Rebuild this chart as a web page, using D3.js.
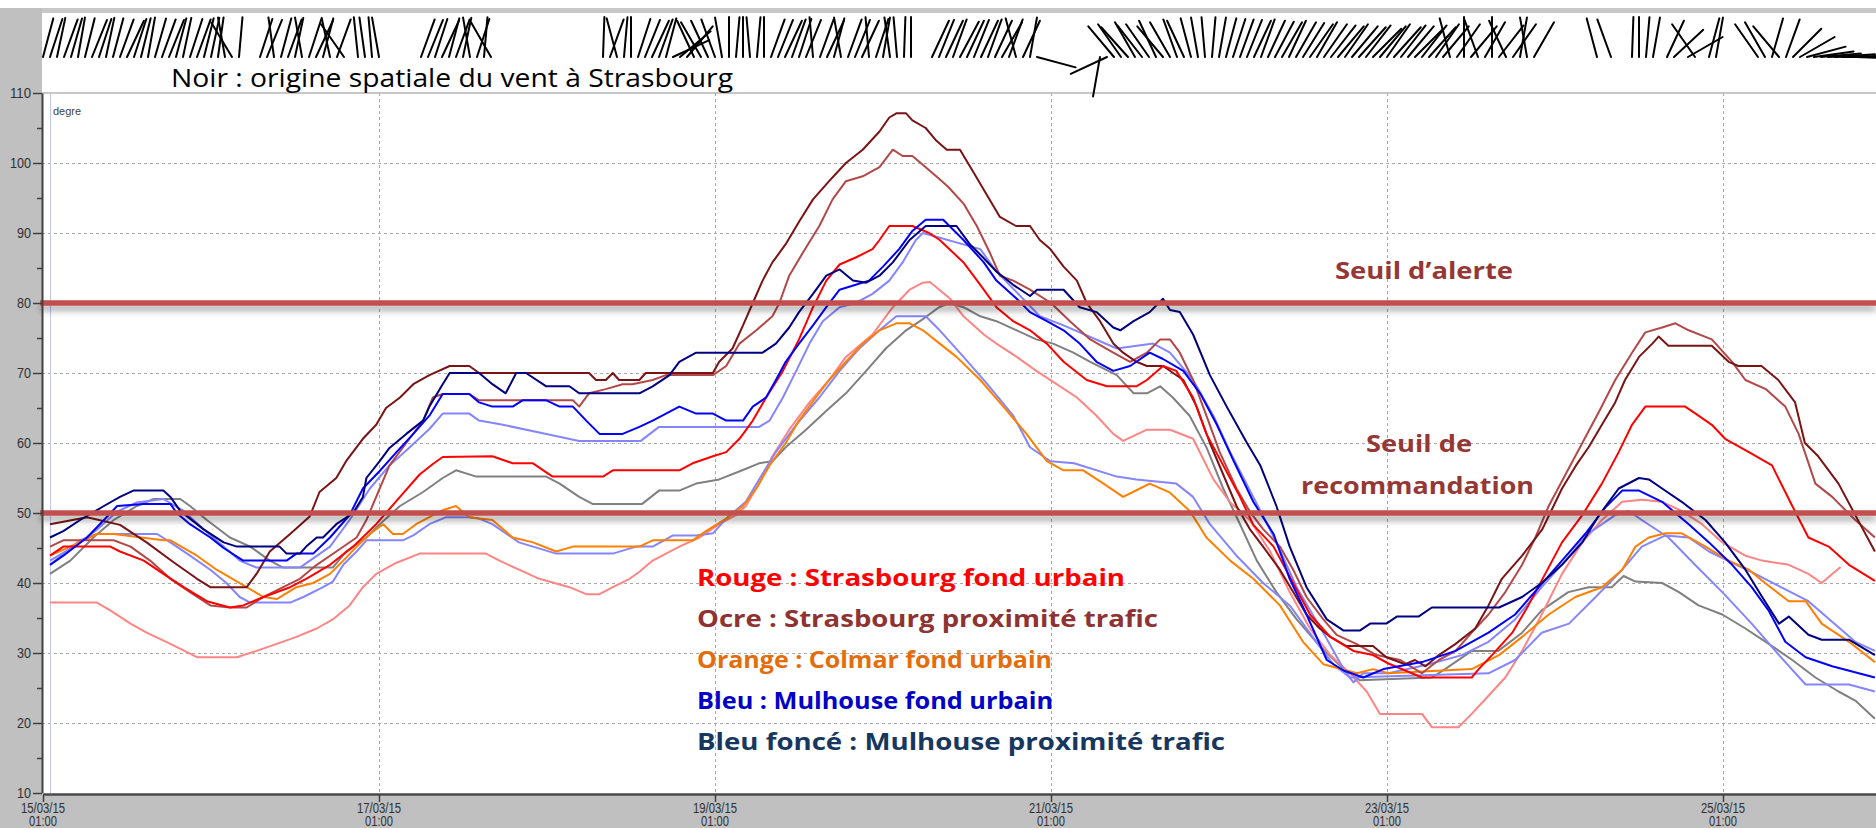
<!DOCTYPE html>
<html>
<head>
<meta charset="utf-8">
<script src="https://cdn.jsdelivr.net/npm/d3@7"></script>
<style>
  html, body { margin: 0; padding: 0; background: #fff; }
  svg { display: block; }
</style>
</head>
<body>
<svg id="chart" width="1876" height="828"></svg>
<script>
// Hourly series: [hours since 15/03/15 01:00, degre]
const darkRed = [[1,48.4],[6.3,49.4],[11,48.3],[14.8,45.8],[18.6,43],[22,40.6],[23.9,39.4],[29.1,39.4],[30.5,41.3],[32.4,44.5],[35.3,47],[38.1,49.5],[39.5,53],[41.9,55],[43.3,57.4],[45.7,60.6],[47.6,62.6],[49,65],[51,66.5],[52.9,68.4],[55.2,69.7],[58.1,71],[60.9,71],[62.3,70],[78,70],[79,69],[80.4,69],[81.4,70],[82.3,69],[85.2,69],[86.1,70],[95.7,70],[96.6,71.6],[98.5,73.5],[100,76.8],[101.4,80],[102.8,83.2],[104.2,85.8],[106.1,88.4],[108,91.6],[110,94.8],[112.3,97.4],[114.7,100],[117.1,101.9],[119.5,104.5],[120.9,106.5],[121.9,107.1],[123.3,107.1],[124.2,106.1],[126.1,105],[127.6,103.2],[129.1,101.9],[131,101.9],[132.9,98.7],[134.8,95.5],[136.7,92.3],[139,91],[141,91],[142.4,89],[143.9,87.7],[145.8,85.2],[147.7,83.2],[149.1,80],[151,77.4],[152.9,74.2],[154.3,72.9],[156.2,71.6],[157.7,71],[160,71],[162.9,69],[164.8,65.2],[166.7,60],[168.6,55.5],[170.5,51],[172.4,47.7],[174.3,45.2],[176.7,41.9],[178.6,38.7],[180.5,35.5],[182.4,33.5],[183.9,32.3],[186.2,31],[190,31],[191.9,29.4],[194.6,28.4],[196,29],[197.5,28.1],[199.4,29.7],[201.8,31.3],[204.6,33.5],[206.5,36.8],[208.4,40.6],[211.3,43.9],[214.2,47.7],[217,53.5],[219,56.8],[220.8,59.4],[222.7,62.6],[224.6,65.8],[226,69],[228,72.3],[229.9,74.2],[230.8,75.2],[232.2,73.9],[238.4,73.9],[240.8,71.6],[242.2,71],[245.5,71],[247.9,69],[250.3,65.8],[251.7,60],[253.6,58.1],[256.5,54.2],[258.9,49.7],[261.7,44.5]];

const brickRed = [[1,45.2],[2.9,46.1],[10.1,46.1],[12.5,45.2],[15.3,43.2],[18.2,40.6],[21,38.7],[23.9,36.8],[26.7,36.5],[29.1,36.5],[31.5,38],[34.3,39.4],[36.7,40.6],[39.1,42.6],[41.9,44.5],[44.8,46.5],[46.2,49],[49.5,56.8],[51.9,60],[54.3,63.2],[55.7,66.5],[57.1,67],[60.9,67],[62.3,66.1],[75.7,66.1],[76.6,65.2],[78,67.1],[80.4,67.7],[82.8,68.4],[84.2,68.4],[87.1,69],[89,69.7],[95.7,69.7],[97.6,71],[99.5,74.2],[101.9,76.1],[104.2,78.1],[105.2,80],[106.6,83.9],[108.5,87.1],[110.9,91],[112.8,94.8],[114.7,97.4],[117.1,98.1],[119.5,99.4],[121.4,101.9],[122.8,101],[124.2,101],[126.1,99.4],[127.6,98.1],[129.3,96.6],[131.5,94.2],[133.4,91],[135.3,87.1],[136.7,83.9],[138.6,83.2],[141,81.9],[144,80],[146.7,77.4],[149.6,74.8],[152.9,72.9],[155.3,71.6],[157.7,72.9],[159.6,74.8],[161,74.8],[162.4,72.9],[164.3,69],[166.2,63.9],[168.1,58.7],[170.5,53.5],[172.4,50.2],[174.3,47.7],[176.7,45.2],[178.6,41.9],[180.5,38],[182.9,34.8],[184.8,32.6],[187.6,31.3],[190.5,29.7],[193.9,29],[197,27.1],[199.4,29],[201.8,30.3],[204.1,32.9],[206.5,35.5],[208.9,38.7],[211.3,42.6],[213.2,46.5],[215.1,51],[217.5,55.5],[219.9,60],[222.3,64.5],[224.6,69],[227,72.9],[228.9,75.8],[231.3,76.5],[233.2,77.1],[235.1,76.1],[238.4,74.8],[241.3,71.6],[243.2,69],[246.1,67.7],[248.9,65.2],[250.8,61.3],[253.2,54.2],[255.6,52.3],[258.9,49],[261.7,46.5]];

const red = [[1,43.9],[2.9,45.2],[9.6,45.2],[11,44.5],[14.4,43.2],[17.2,41.3],[20.1,39.4],[23.4,37.4],[26.7,36.5],[28.6,36.8],[31.5,38],[35.3,39.4],[37.6,40.6],[41,42.6],[44.3,45.2],[47.6,48.4],[51,52.3],[53.8,55.5],[55.7,57],[57.1,58],[64.2,58.1],[67.1,57.1],[70,57.1],[72.8,55.2],[80,55.2],[81.4,56.1],[90.9,56.1],[92.8,57.1],[95.7,58.1],[97.6,58.7],[99.5,60.6],[101.4,63.2],[103.3,66.5],[105.7,70.3],[108,74.8],[110,79.4],[111.9,83.2],[113.8,85.5],[116.1,86.5],[118.5,87.7],[119.5,89],[120.9,91],[124.2,91],[126.6,90],[128.1,89],[131.5,85.8],[133.9,82.6],[136.2,79.4],[138.6,77.4],[141,76.1],[143.4,74.2],[145.8,71.6],[149.1,69],[152,68.1],[156.2,68.1],[157.7,69],[160,71],[161.9,70.3],[164.3,66.5],[166.2,61.3],[168.6,56.8],[171,52.3],[172.9,48.3],[175.8,45.2],[178.6,40],[181,35.5],[183.9,32.3],[187.2,30.3],[190,29.7],[192.2,28.5],[194.6,27.5],[197,26.5],[204.1,26.5],[205.1,27.7],[207,29.7],[209.9,32.9],[212.2,36.8],[214.6,41.3],[217,45.8],[219.9,49.7],[222.7,54.2],[225.1,58.7],[227,62.6],[228.9,65.2],[234.6,65.2],[236.5,63.9],[238.4,62.6],[240.3,60.6],[243.7,58.7],[247,56.8],[249.9,51],[252.2,46.5],[255.1,45.2],[258,42.6],[261.7,40.3]];

const pink = [[1,37.2],[7.7,37.2],[9.6,36.1],[12.5,34.2],[14.8,32.9],[18.2,31.3],[22,29.4],[27.7,29.4],[30.5,30.3],[33.4,31.3],[36.2,32.3],[39.1,33.5],[41.4,34.8],[43.8,36.8],[45.7,39.4],[47.6,41.3],[50.5,42.9],[53.8,44.2],[63.3,44.2],[65.2,43.2],[68,41.9],[70.9,40.6],[75.2,39.4],[77.6,38.4],[79.5,38.4],[81.4,39.4],[83.8,40.6],[85.2,41.6],[87.1,43.2],[90.9,45.2],[93.8,46.5],[96.6,48.4],[99,49.7],[100.4,51],[102.3,54.2],[104.2,58.1],[106.6,61.9],[109.5,65.8],[112.3,69],[114.7,72.3],[118.5,75.5],[121.4,79.4],[123.8,81.9],[125.7,82.9],[126.7,83],[129.6,80.6],[131.5,78.1],[134.4,75.5],[136.2,74.2],[139.1,72.3],[141.9,70.3],[144.8,68.4],[147.7,66.5],[150.5,63.9],[152.9,61.3],[154.3,60.3],[157.7,61.9],[161,61.9],[164.3,60.6],[167.2,54.8],[169.6,51.5],[172.4,49],[175.3,44.5],[178.1,38.7],[181,33.5],[183.9,29.7],[186.7,27.1],[189.1,24.5],[191,21.3],[197,21.3],[198.4,19.4],[202.2,19.4],[204.1,21.3],[206.5,23.9],[208.9,26.5],[211.3,30.3],[214.1,35.5],[217,41.3],[219.9,45.8],[222.7,49],[225.6,51.6],[228.4,51.9],[231.3,51.6],[234.1,50.3],[237,48.4],[239.9,45.8],[243.2,43.9],[245.6,43.2],[249.4,42.6],[252.2,41.3],[254.1,40],[255.6,41.3],[256.8,42.3]];

const navy = [[1,46.5],[2.9,47.4],[5.3,49],[8.7,51],[11,52.3],[12.9,53.2],[17.2,53.2],[18.2,52.3],[19.6,50.3],[22.9,47.7],[25.8,45.8],[27.7,45.2],[33.8,45.2],[34.8,44.2],[36.7,44.2],[37.6,45.2],[39.1,46.5],[40,46.5],[41.9,48.4],[44.3,50],[45.7,52.3],[46.2,55],[48.1,57.4],[49.5,59.3],[51.9,61.3],[54.3,63.2],[55.2,65.2],[57.1,68.4],[58.1,70],[62.3,70],[64.2,68.4],[66.1,67.1],[67.6,70],[69,70],[71.9,68.1],[75.2,68.1],[76.6,67.1],[85.2,67.1],[87.1,68.1],[89.5,69.7],[90.9,71.6],[93.3,72.9],[102.8,72.9],[104.7,74.2],[106.6,76.5],[108,78.7],[110,81.3],[111.9,83.9],[113.8,84.8],[115.7,83.2],[117.6,82.9],[119.5,83.9],[121.4,85.8],[123.8,89],[126.1,91],[130.5,91],[132.4,88.4],[134.3,86.5],[136.2,84.5],[138.6,82.6],[141,81],[142,81.9],[145.8,81.9],[148.1,79.4],[150.5,78.7],[152.9,76.5],[153.9,76.1],[155.8,77.4],[158.1,78.7],[160,80.6],[161,79],[162.4,78.7],[164.3,75.5],[166.7,69.7],[169.1,65.2],[172,60],[173.9,56.8],[176.2,51],[178.1,45.2],[180.5,39.4],[183.4,34.8],[185.8,33.2],[188.1,33.2],[189.6,34.2],[191.9,34.2],[193.4,35.2],[196.5,35.2],[198.4,36.5],[208,36.5],[211.3,38],[214.1,40],[217,42.6],[219.9,45.8],[222.3,49.7],[225.1,53.5],[228,55],[229.4,54.8],[231.3,53.5],[234.1,51.6],[237.5,49],[240.3,45.8],[243.2,41.9],[245.6,38],[248,34.2],[249.4,35.2],[252.2,32.6],[254.1,31.9],[258,31.9],[261.7,29.7]];

const blue = [[1,42.6],[2.9,43.9],[6.3,46.5],[8.7,49],[10.6,51],[14.4,51.3],[18.2,51.3],[19.1,50],[21,48.4],[23.9,46.5],[25.8,45],[28.6,43.2],[34.8,43.2],[36.2,44.2],[38.6,44.2],[41,46.5],[43.8,49.7],[45.7,53.5],[48.1,56],[50.5,58.7],[52.9,61.3],[55.2,63.9],[57.1,67],[60.9,67],[62.3,65.8],[64.2,65.2],[67.1,65.2],[68.5,66.1],[71.9,66.1],[73.8,65.2],[75.7,65.2],[77.6,63.2],[79.5,61.3],[82.8,61.3],[85.2,62.3],[87.1,63.2],[89,64.2],[90.9,65.2],[93.3,64.2],[95.7,64.2],[97.6,63.2],[100,63.2],[101.4,65.2],[103.3,66.5],[104.7,69],[106.1,71.6],[108,74.2],[110,76.8],[111.9,79.4],[113.8,81.9],[116.1,82.6],[118,83.2],[120,85.2],[122.3,87.7],[124.2,90.3],[126.1,91.9],[128.6,91.9],[131.5,89],[134.4,85.8],[136.2,83.2],[139.1,80.6],[141,78.7],[143.4,77.4],[145.8,76.1],[148.1,74.2],[150.5,71.6],[152.9,70.3],[155.3,71],[158.1,72.9],[160,72],[162.9,70.3],[165.3,67.1],[167.7,62.6],[170.1,57.4],[172.9,51.6],[175.8,47],[178.1,40.6],[180.5,35.5],[183.4,29],[185.8,27.5],[188.6,26.5],[191.5,27.7],[197,28.7],[201.8,30.3],[206.5,32.9],[210.3,35.5],[213.7,39.4],[217,43.2],[220.3,47],[223.2,50.8],[225.6,53.2],[228,53.2],[231.3,51.6],[235.1,48.4],[238,45.8],[241.3,42.6],[244.1,39.4],[246.5,36.1],[248.9,31.6],[251.8,29.4],[255.6,28.1],[261.7,26.5]];

const lavenderA = [[1,43.2],[4.4,45.2],[7.7,47.6],[10.6,50.2],[13.4,51.5],[17.2,52],[20.1,50.3],[22.9,47.7],[25.8,45.2],[28.1,43.2],[30.5,42.2],[36.7,42.2],[41,45.2],[43.8,49],[46.7,53.5],[49.5,56.8],[52.4,59.4],[55.2,62],[57.1,64.2],[60.9,64.2],[62.3,63.2],[65.7,62.6],[71.9,61.3],[76.6,60.3],[85.4,60.3],[88,62.3],[102.3,62.3],[103.8,63.2],[105.7,66.5],[107.6,70.3],[109.5,74.2],[111.4,77.4],[113.8,79.4],[116.1,80],[118.5,81.3],[120.9,83.2],[122.8,85.8],[124.7,89],[125.7,90],[133.9,87.7],[136.2,84.5],[140,80.6],[142.4,78.1],[145.8,76.8],[153.4,73.5],[158.6,74.2],[161,72.9],[164.3,69],[167.2,63.9],[169.6,58.7],[172.9,52.3],[176.2,45.8],[179.1,39.4],[182.9,32.9],[185.8,27.7],[187.2,25.8],[188.6,27.1],[192.2,27.1],[198,28.4],[202.7,29.7],[206.5,31.6],[210.3,34.8],[214.1,39.4],[217.5,43.2],[220.8,47.1],[224.6,49.7],[226.5,50.3],[228.4,49],[232.2,46.5],[236,42.6],[239.9,38.7],[244.1,34.2],[248,29.7],[251.8,25.5],[258,25.5],[261.7,24.5]];

const lavenderB = [[1,42.6],[3.4,44.5],[5.3,46.1],[7.7,47],[16.3,47],[18.2,45.8],[21,43.9],[23.9,41.9],[26.2,40],[28.1,38],[29.6,37.2],[35.3,37.2],[37.2,38],[40,39.4],[41.4,40.2],[42.9,42.6],[44.8,44.5],[46.2,46.1],[51.4,46.1],[52.9,46.8],[55.2,48.4],[57.6,49.4],[60.9,49.4],[62.3,49.2],[64.2,48.4],[68,45.8],[70,45.2],[73.3,44.2],[81.4,44.2],[84.7,45.2],[87.1,45.2],[90,46.8],[93.3,46.8],[95.7,47.1],[97.6,49.2],[100.4,51.6],[102.3,54.8],[104.7,58.7],[107.6,62.6],[110.9,66.5],[113.8,70.3],[116.6,73.5],[119.5,76.1],[121.9,78.1],[126.1,78.1],[128.1,76.1],[131.5,72.3],[134.9,68.4],[138.6,63.9],[141,59.4],[143.9,57.4],[147.3,57.1],[153.4,55.2],[156.2,54.8],[161.9,54.2],[164.3,52.3],[166.7,48.4],[170.5,43.9],[174.3,40],[178.1,36.8],[181.9,31.6],[184.3,28.4],[186.7,26.5],[206.5,27.1],[210.3,29],[214.1,32.9],[218,34.2],[221.8,38],[225.6,41.9],[228.4,45.2],[231.8,46.8],[235.1,46.5],[238,44.5],[244.6,41.3],[252.2,37.4],[258.9,31.6],[261.7,30.3]];

const orange = [[1,43.9],[3.9,45.2],[7.7,47],[10.1,47],[17.2,46.1],[18.2,46.1],[22,43.9],[24.8,41.9],[31.5,38],[33.4,37.7],[36.2,39.4],[38.6,40],[41,41.3],[42.9,43.2],[44.8,45.2],[46.7,47],[48.6,48.4],[50,47],[51.4,47],[53.3,48.4],[55.2,49.4],[57.1,50.4],[59,51],[60.9,49.4],[62.3,49.2],[64.2,49],[67.1,46.5],[70,45.8],[73.3,44.5],[75.7,45.2],[85.2,45.2],[87.1,46.1],[92.8,46.1],[94.7,47.4],[97.6,49.2],[100,51],[101.9,53.5],[103.8,56.8],[106.1,60],[108,63.2],[110.4,66.5],[112.3,69],[114.7,71.6],[117.1,74.2],[119.5,76.1],[121.9,77.1],[123.8,77.1],[125.7,76.1],[128.1,74.2],[130.5,72.3],[133.9,69],[137.2,65.2],[140.5,61.3],[143.4,57.4],[145.8,56.1],[148.6,56.1],[151.5,54.2],[154.3,52.3],[156.7,53.5],[158.1,54.2],[161,52.9],[163.9,50.2],[166.2,46.5],[169.6,43.2],[172.9,40.6],[176.7,36.8],[180,31.6],[182.9,28.4],[187.7,27.1],[190,27.7],[192.2,27.1],[204.1,27.7],[208,29.7],[211.3,32.3],[215.1,35.5],[218.9,38],[222.7,39.4],[225.6,41.9],[227.5,45.2],[229.4,46.5],[231.8,47.1],[234.1,47.1],[237.5,45.2],[240.8,43.2],[243.7,41.9],[246,40],[249.4,37.4],[251.8,37.4],[254.1,34.2],[258,31.6],[261.7,28.7]];

const grey = [[1,41.3],[3.9,43.2],[7.2,46.5],[10.1,49],[13.4,51],[15.8,52],[19.6,52],[21,51],[23.4,49],[26.7,46.5],[29.6,45.2],[32.4,43.2],[34.3,42.2],[41.4,42.2],[43.3,44.5],[46.2,46.5],[48.1,48.4],[51,51],[54.3,53],[57.1,55],[59,56.1],[61.9,55.2],[71.9,55.2],[73.8,54.2],[76.6,52.3],[78.5,51.3],[85.6,51.3],[88,53.2],[90.9,53.2],[93.3,54.2],[96.6,54.8],[99.9,56.1],[102.3,57.1],[104.2,57.4],[106.1,59.4],[109,61.9],[111.8,64.5],[114.7,67.1],[117.6,70.3],[120.4,73.5],[123.3,76.1],[125.7,77.7],[128,79.4],[129.5,80],[131.5,79.4],[133.9,78.1],[136.2,77.4],[139.1,76.1],[141.9,74.8],[144.3,74.2],[147.2,72.9],[149.6,71.6],[153.4,69.7],[155.8,67.1],[157.7,67.1],[159.6,68.1],[161.4,66.5],[163.8,63.9],[166.2,59.4],[168.6,53.5],[171,48.4],[173.4,43.2],[176.2,38.7],[179.1,34.8],[182.4,31],[185.8,27.7],[188.1,26.1],[198.4,26.5],[200.3,27.7],[204.1,30.3],[207.9,30.3],[211.3,32.9],[214.1,36.1],[217.9,38.7],[220.8,39.4],[224.1,39.4],[225.8,41],[227.5,40.2],[231.3,40],[233.7,38.7],[236.5,36.8],[239.9,35.5],[243.2,33.5],[246.1,31.6],[249.9,29],[253.2,26.5],[256.5,24.5],[258.9,23.2],[261.7,20.6]];

// Wind origin at Strasbourg, one stick per hour (degrees, 0 = north, null = no data)
const windDirection = [
  15,18,12,20,16,10,14,22,18,12,15,20,25,18,14,10,16,20,22,15,12,18,20,14,
  12,8,-10,-31,5,null,null,18,22,-8,15,20,12,-10,18,25,15,-12,20,-35,null,-6,-8,-5,
  -10,null,null,null,null,null,20,22,18,25,15,20,12,-10,18,5,-30,null,null,null,null,null,null,null,
  null,null,null,null,null,null,null,null,2,20,-15,5,0,18,22,25,20,15,65,50,40,-25,-30,-25,
  -20,-10,0,5,0,-5,5,0,20,22,25,20,18,22,-5,20,25,15,-10,20,22,25,-5,18,
  10,-8,-5,2,0,null,null,25,22,25,20,28,25,22,25,20,25,30,20,-15,25,10,105,null,
  null,null,null,null,null,null,null,190,245,-40,-35,-42,-30,-38,-35,-25,-40,-30,-20,-25,-15,-10,-5,5,
  10,15,18,20,22,25,20,25,28,30,25,30,32,35,30,35,38,40,35,40,42,38,45,40,
  35,42,38,40,45,38,42,35,40,-15,35,0,40,-20,30,0,38,-25,35,10,-10,30,null,null,
  null,null,null,null,null,null,-15,null,-20,null,null,2,0,5,10,null,25,47,null,60,-35,null,15,10,
  null,null,null,null,null,-35,-30,16,-40,20,45,60,75,82,85,88,86,90,88,92,90,88
];

const tickDates = ["2015-03-15 01:00", "2015-03-17 01:00", "2015-03-19 01:00",
                   "2015-03-21 01:00", "2015-03-23 01:00", "2015-03-25 01:00"];
const yTicks = [10, 20, 30, 40, 50, 60, 70, 80, 90, 100, 110];
const thresholds = [80, 50];
const legendLabels = ["Rouge : Strasbourg fond urbain", "Ocre : Strasbourg proximité trafic",
                      "Orange : Colmar fond urbain", "Bleu : Mulhouse fond urbain",
                      "Bleu foncé : Mulhouse proximité trafic"];
const legendColors = ["#ff0000", "#8e3232", "#e46c0a", "#0000c8", "#17375e"];

// drawing order, last on top
const series = [
  {data: grey, color: "#808080"},
  {data: pink, color: "#ff8585"},
  {data: lavenderB, color: "#8585ff"},
  {data: lavenderA, color: "#8585ff"},
  {data: orange, color: "#ff8000"},
  {data: brickRed, color: "#b34848"},
  {data: darkRed, color: "#7a1414"},
  {data: red, color: "#ff0000"},
  {data: blue, color: "#0000ff"},
  {data: navy, color: "#000080"}
];

const W = 1876, H = 828;
const plot = {left: 42, top: 93, bottom: 793, right: W};
const parse = d3.timeParse("%Y-%m-%d %H:%M");
const start = parse(tickDates[0]);
const at = h => new Date(start.getTime() + h * 3600e3);

const x = d3.scaleTime().domain([start, at(262)]).range([43, 43 + 262 * 7]);
const y = d3.scaleLinear().domain([10, 110]).range([plot.bottom, plot.top]);

const svg = d3.select("#chart");
const defs = svg.append("defs");
defs.append("clipPath").attr("id", "plotClip")
  .append("rect").attr("x", plot.left).attr("y", plot.top)
  .attr("width", plot.right - plot.left).attr("height", plot.bottom - plot.top);
defs.append("filter").attr("id", "shadow").attr("filterUnits", "userSpaceOnUse")
  .attr("x", 0).attr("y", 0).attr("width", W).attr("height", H)
  .append("feDropShadow").attr("dx", 0).attr("dy", 5).attr("stdDeviation", 3)
  .attr("flood-color", "#000").attr("flood-opacity", 0.35);

// Frame
svg.append("rect").attr("width", W).attr("height", H).attr("fill", "#fff");
svg.append("rect").attr("x", 0).attr("y", 8).attr("width", W).attr("height", 5).attr("fill", "#c8c8c8");
svg.append("rect").attr("x", 0).attr("y", 8).attr("width", plot.left).attr("height", H - 8).attr("fill", "#c0c0c0");
svg.append("rect").attr("x", 0).attr("y", plot.bottom + 2).attr("width", W).attr("height", H - plot.bottom - 2).attr("fill", "#c0c0c0");
svg.append("line").attr("x1", plot.left).attr("x2", W).attr("y1", plot.top).attr("y2", plot.top)
  .attr("stroke", "#c8c8c8").attr("stroke-width", 2);

// Grid
const grid = svg.append("g");
grid.selectAll("line.h").data(yTicks.filter(v => v > 10 && v < 110)).join("line")
  .attr("x1", plot.left).attr("x2", W)
  .attr("y1", d => y(d) + 0.5).attr("y2", d => y(d) + 0.5)
  .attr("stroke", "#a8a8a8").attr("stroke-dasharray", "3,3");
grid.selectAll("line.v").data(tickDates.slice(1)).join("line")
  .attr("x1", d => Math.round(x(parse(d))) + 0.5).attr("x2", d => Math.round(x(parse(d))) + 0.5)
  .attr("y1", plot.top).attr("y2", plot.bottom)
  .attr("stroke", "#a8a8a8").attr("stroke-dasharray", "3,3");
svg.append("line").attr("x1", 50.5).attr("x2", 50.5).attr("y1", plot.top).attr("y2", plot.bottom)
  .attr("stroke", "#c4c4f2").attr("stroke-width", 1);

svg.append("text").attr("x", 53).attr("y", 115).text("degre")
  .attr("font-family", "Liberation Sans, Arial, sans-serif").attr("font-size", 11).attr("fill", "#444");

// Series
const line = d3.line().x(d => x(at(d[0]))).y(d => y(d[1]));
svg.append("g").attr("clip-path", "url(#plotClip)")
  .selectAll("path").data(series).join("path")
  .attr("d", d => line(d.data))
  .attr("fill", "none").attr("stroke", d => d.color)
  .attr("stroke-width", 2).attr("stroke-linejoin", "round");

// Thresholds
svg.append("g").selectAll("rect").data(thresholds).join("rect")
  .attr("x", 40).attr("width", W - 40)
  .attr("y", d => y(d) - 2.75).attr("height", 5.5)
  .attr("fill", "#c0504d").attr("filter", "url(#shadow)");

// Axes
const axisFont = "Liberation Sans, Arial, sans-serif";
const yAxis = svg.append("g").attr("transform", `translate(${plot.left},0)`)
  .call(d3.axisLeft(y).tickValues(yTicks).tickSize(9).tickSizeOuter(0).tickPadding(2).tickFormat(d3.format("d")));
svg.append("g").attr("transform", `translate(${plot.left},0)`)
  .call(d3.axisLeft(y).tickValues(yTicks.slice(0, -1).map(v => v + 5)).tickSize(5).tickSizeOuter(0).tickFormat(""))
  .call(g => g.select(".domain").remove());
yAxis.select(".domain").attr("stroke", "#404040").attr("stroke-width", 2);
svg.selectAll(".tick line").attr("stroke", "#404040").attr("stroke-width", 1.5);
yAxis.selectAll("text").attr("font-family", axisFont).attr("font-size", 14).attr("fill", "#303030")
  .attr("textLength", d => String(d).length * 7).attr("lengthAdjust", "spacingAndGlyphs");

const xAxis = svg.append("g").attr("transform", `translate(0,${plot.bottom + 1})`)
  .call(d3.axisBottom(x).tickValues(tickDates.map(parse)).tickSize(8).tickSizeOuter(0).tickFormat(""));
xAxis.select(".domain").attr("stroke", "#4a4a4a").attr("stroke-width", 2.5);
xAxis.selectAll(".tick line").attr("stroke", "#404040").attr("stroke-width", 1.5);
const fmtDay = d3.timeFormat("%d/%m/%y"), fmtHour = d3.timeFormat("%H:%M");
const xl = svg.append("g").selectAll("g").data(tickDates.map(parse)).join("g")
  .attr("transform", d => `translate(${x(d)},0)`)
  .attr("font-family", axisFont).attr("font-size", 14).attr("fill", "#303030").attr("text-anchor", "middle");
xl.append("text").attr("y", 813).text(fmtDay)
  .attr("textLength", 44).attr("lengthAdjust", "spacingAndGlyphs");
xl.append("text").attr("y", 826).text(fmtHour)
  .attr("textLength", 28).attr("lengthAdjust", "spacingAndGlyphs");

// Wind sticks
const stickLen = 40, stickBase = 57;
svg.append("g").selectAll("line")
  .data(windDirection.map((a, i) => ({h: i, a})).filter(d => d.a !== null))
  .join("line")
  .attr("x1", d => x(at(d.h)))
  .attr("y1", stickBase)
  .attr("x2", d => x(at(d.h)) + stickLen * Math.sin(d.a * Math.PI / 180))
  .attr("y2", d => stickBase - stickLen * Math.cos(d.a * Math.PI / 180))
  .attr("stroke", "#000").attr("stroke-width", 2).attr("stroke-linecap", "round");

// Annotations
const noteFont = "Open Sans, Noto Sans, sans-serif";
svg.append("text").attr("x", 171).attr("y", 87)
  .text("Noir : origine spatiale du vent à Strasbourg")
  .attr("font-family", noteFont).attr("font-size", 26).attr("fill", "#000")
  .attr("textLength", 562).attr("lengthAdjust", "spacingAndGlyphs");

svg.append("g").selectAll("text").data(legendLabels).join("text")
  .attr("x", 697).attr("y", (d, i) => 586 + i * 41)
  .text(d => d)
  .attr("font-family", noteFont).attr("font-weight", "bold").attr("font-size", 24)
  .attr("fill", (d, i) => legendColors[i])
  .attr("textLength", (d, i) => [428, 461, 355, 356, 528][i]).attr("lengthAdjust", "spacingAndGlyphs");

const seuil = svg.append("g").attr("font-family", noteFont).attr("font-weight", "bold")
  .attr("font-size", 24).attr("fill", "#953735");
seuil.append("text").attr("x", 1335).attr("y", 279).text("Seuil d’alerte")
  .attr("textLength", 178).attr("lengthAdjust", "spacingAndGlyphs");
seuil.append("text").attr("x", 1366).attr("y", 452).text("Seuil de")
  .attr("textLength", 106).attr("lengthAdjust", "spacingAndGlyphs");
seuil.append("text").attr("x", 1301).attr("y", 494).text("recommandation")
  .attr("textLength", 233).attr("lengthAdjust", "spacingAndGlyphs");
</script>
</body>
</html>
